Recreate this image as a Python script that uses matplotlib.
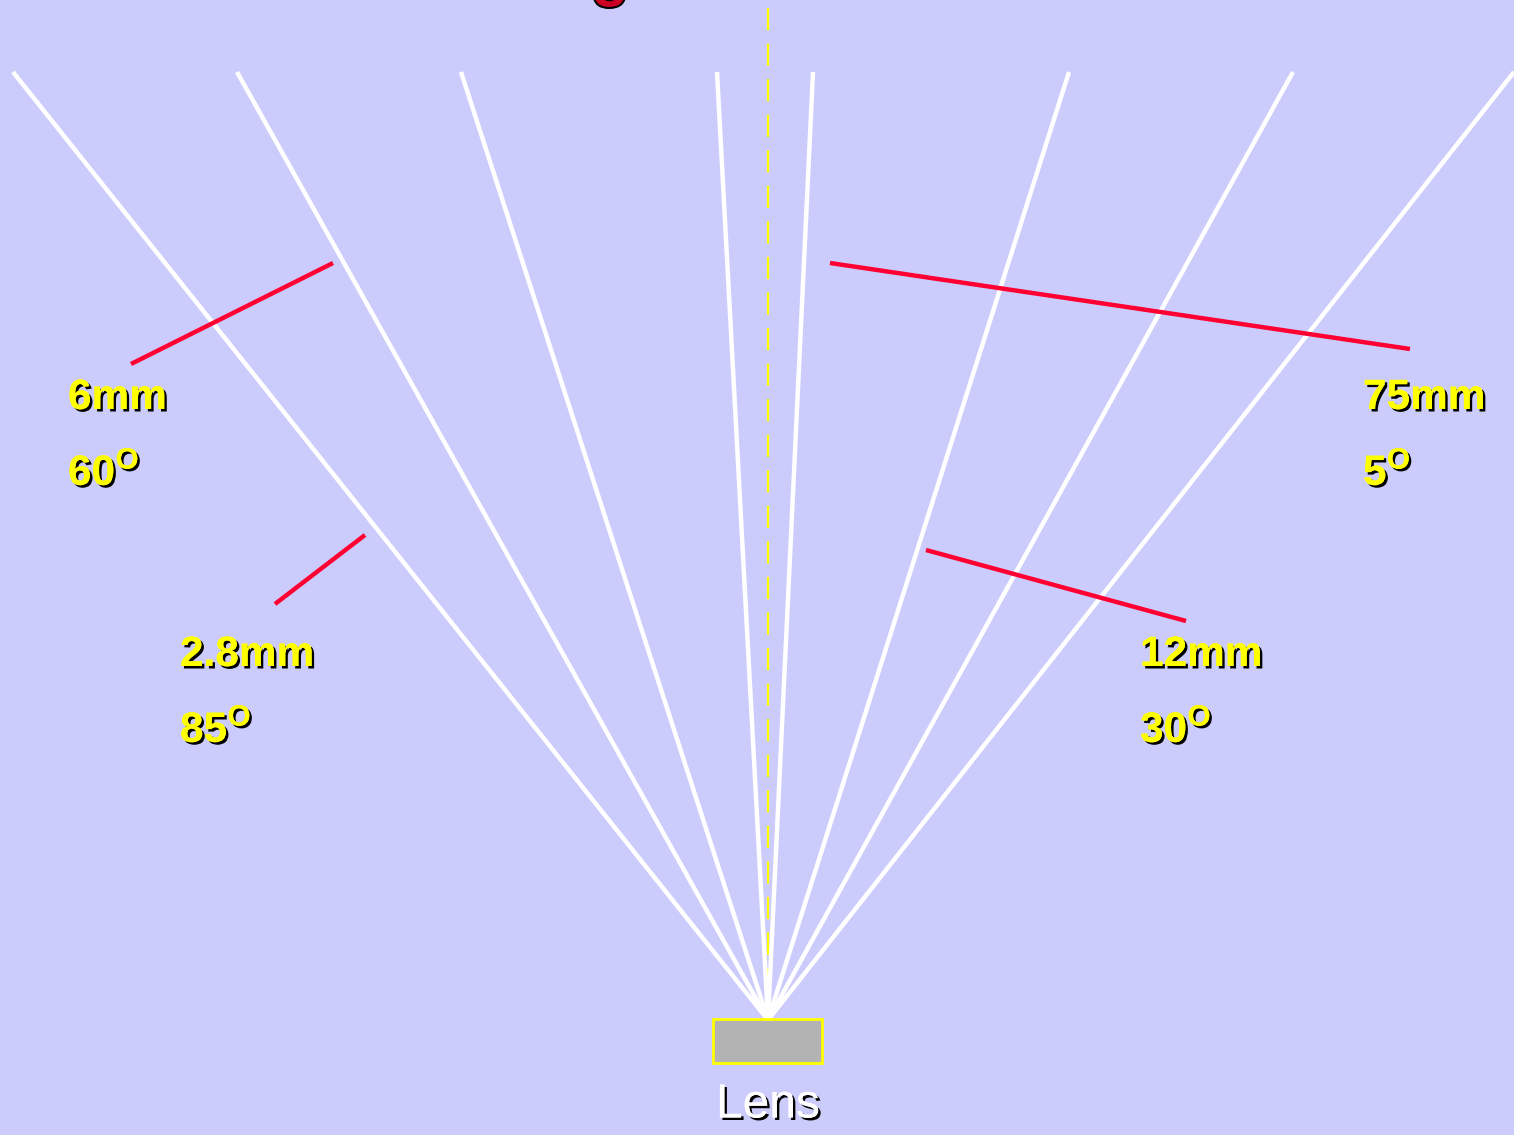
import matplotlib.pyplot as plt
import matplotlib.patches as patches
import matplotlib.patheffects as pe

# geometry in picture pixels (y grows downward)
apex = (768, 1020)
ray_top_y = 72
ray_top_x = [13, 237, 461, 717, 813, 1069, 1293, 1514]

# red measuring bars: (x0, y0, x1, y1)
bars = [
    (131, 364, 333, 263),   # 6mm
    (275, 604, 365, 535),   # 2.8mm
    (830, 263, 1410, 349),  # 75mm
    (926, 550, 1186, 621),  # 12mm
]

focal_labels = ["6mm", "2.8mm", "75mm", "12mm"]
angle_labels = ["60", "85", "5", "30"]
label_pos = [(68, 398), (180, 655), (1363, 398), (1140, 655)]
angle_dy = 76

bg = "#ccccfc"
fig = plt.figure(figsize=(15.14, 11.35), dpi=100, facecolor=bg)
ax = fig.add_axes([0, 0, 1, 1])
ax.set_facecolor(bg)
ax.set_xlim(0, 1514)
ax.set_ylim(1135, 0)
ax.axis("off")

shadow = [pe.withSimplePatchShadow(offset=(1.8, -1.8), shadow_rgbFace="black", alpha=1.0), pe.Normal()]

# cropped title glyph at the top edge
ax.text(610, -6, "g", fontsize=44, fontweight="bold", family="Liberation Sans",
        color="#cc0022", ha="center", va="baseline",
        path_effects=[pe.withStroke(linewidth=3, foreground="black")])

# optical axis
ax.plot([768, 768], [8, 1018], color="#ffff00", lw=1.6, dashes=(10, 6), zorder=1)

# field-of-view rays
for x in ray_top_x:
    ax.plot([apex[0], x], [apex[1], ray_top_y], color="white", lw=3.2, solid_capstyle="butt", zorder=2)

for x0, y0, x1, y1 in bars:
    ax.plot([x0, x1], [y0, y1], color="#ff0033", lw=3.2, solid_capstyle="butt", zorder=3)

for (x, y), f, a in zip(label_pos, focal_labels, angle_labels):
    ax.text(x, y, f, fontsize=30.5, fontweight="bold", family="Liberation Sans",
            color="#ffff00", ha="left", va="center", path_effects=shadow)
    ax.text(x, y + angle_dy, a + r"$^{\mathregular{O}}$", fontsize=30.5, fontweight="bold",
            family="Liberation Sans", color="#ffff00", ha="left", va="center", path_effects=shadow)

# lens box
ax.add_patch(patches.Rectangle((713, 1019), 109, 44, facecolor="#b3b3b3",
                               edgecolor="#ffff00", lw=2, zorder=4))
ax.text(768, 1105, "Lens", fontsize=34.5, family="Liberation Sans", color="white",
        ha="center", va="center", path_effects=shadow)

fig.savefig("out.png", dpi=100, facecolor=bg)
